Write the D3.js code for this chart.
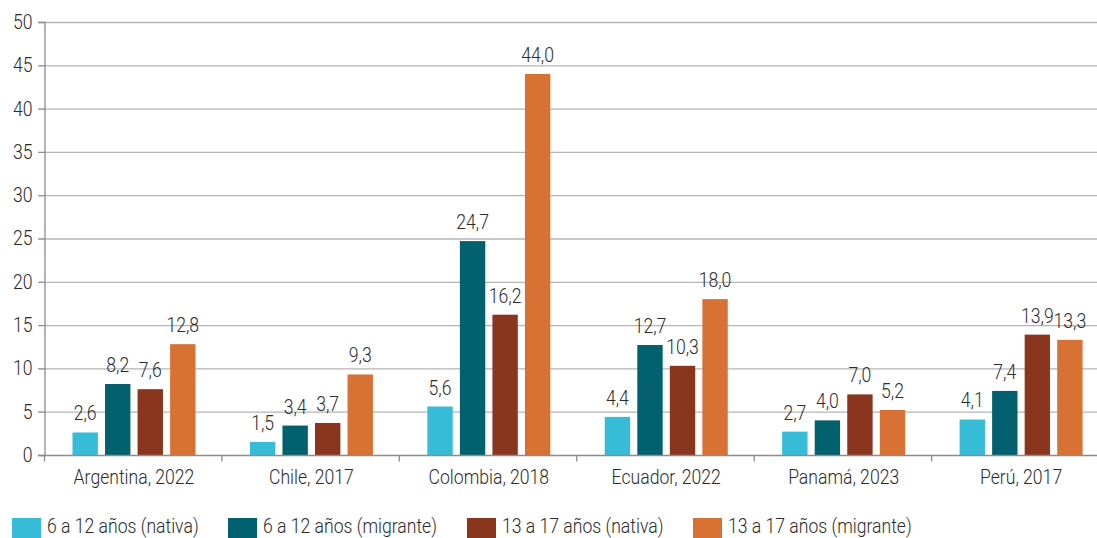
<!DOCTYPE html>
<html>
<head>
<meta charset="utf-8">
<script src="https://cdn.jsdelivr.net/npm/d3@7"></script>
<style>
  body { margin: 0; background: #fff; }
  text { font-family: Roboto, sans-serif; fill: #2b2b2b; font-weight: 300; }
</style>
</head>
<body>
<svg id="graf" width="1097" height="538"></svg>
<script>
let categorias = ['Argentina, 2022', 'Chile, 2017', 'Colombia, 2018', 'Ecuador, 2022', 'Panamá, 2023', 'Perú, 2017']
let series = ['6 a 12 años (nativa)', '6 a 12 años (migrante)', '13 a 17 años (nativa)', '13 a 17 años (migrante)']
let nativa6 = [2.6, 1.5, 5.6, 4.4, 2.7, 4.1]
let migrante6 = [8.2, 3.4, 24.7, 12.7, 4.0, 7.4]
let nativa13 = [7.6, 3.7, 16.2, 10.3, 7.0, 13.9]
let migrante13 = [12.8, 9.3, 44.0, 18.0, 5.2, 13.3]
let ticksY = [0, 5, 10, 15, 20, 25, 30, 35, 40, 45, 50]
let colores = ['#36bcd7', '#03606f', '#8a361f', '#d87134']

function graficar() {
  let valores = [nativa6, migrante6, nativa13, migrante13]
  let svg = d3.select('#graf')
  let fuente = 20

  let x = d3.scaleBand()
            .domain(categorias)
            .range([44.5, 1109])
            .paddingInner(0)
            .paddingOuter(0)
  let x1 = d3.scaleBand()
             .domain(series)
             .range([28, 151])
             .paddingInner(0.22)
  let y = d3.scaleLinear()
            .domain([0, 50])
            .range([455, 22])
  let color = d3.scaleOrdinal().domain(series).range(colores)

  // grid
  svg.append('g')
    .selectAll('line')
    .data(ticksY.slice(1))
    .enter().append('line')
    .attr('x1', 38).attr('x2', 1097)
    .attr('y1', d => y(d) + 0.5).attr('y2', d => y(d) + 0.5)
    .attr('stroke', '#b5b5b5')
    .attr('stroke-width', 1.3)

  // eje y
  let ejeY = svg.append('g')
    .attr('transform', 'translate(44.5,0)')
    .call(d3.axisLeft(y).tickValues(ticksY).tickSize(6).tickPadding(6))
  ejeY.select('.domain').attr('stroke', '#8c8c8c').attr('stroke-width', 1.3)
  ejeY.selectAll('.tick line').attr('stroke', '#8c8c8c')
  ejeY.selectAll('text').attr('font-size', fuente).attr('fill', '#2b2b2b')
    .attr('font-family', 'Roboto, sans-serif')

  let grupos = svg.append('g')
    .selectAll('g')
    .data(categorias)
    .enter().append('g')
    .attr('transform', d => `translate(${x(d)},0)`)

  let barras = grupos.selectAll('g')
    .data((c, i) => series.map((s, j) => ({ serie: s, valor: valores[j][i] })))
    .enter().append('g')

  barras.append('rect')
    .attr('x', d => x1(d.serie))
    .attr('width', x1.bandwidth())
    .attr('y', d => y(d.valor))
    .attr('height', d => y(0) - y(d.valor))
    .attr('fill', d => color(d.serie))

  barras.append('text')
    .attr('x', d => x1(d.serie) + x1.bandwidth() / 2)
    .attr('y', d => y(d.valor) - 12)
    .attr('text-anchor', 'middle')
    .attr('font-size', fuente)
    .text(d => d.valor.toFixed(1).replace('.', ','))

  // eje x
  let ejeX = svg.append('g')
    .attr('transform', `translate(0,${y(0) + 0.5})`)
  ejeX.append('line')
    .attr('x1', 38).attr('x2', 1097)
    .attr('stroke', '#8c8c8c').attr('stroke-width', 1.3)
  ejeX.selectAll('line.sep')
    .data(categorias)
    .enter().append('line')
    .attr('class', 'sep')
    .attr('x1', d => x(d)).attr('x2', d => x(d))
    .attr('y1', 0).attr('y2', 6)
    .attr('stroke', '#8c8c8c').attr('stroke-width', 1.3)
  ejeX.selectAll('text')
    .data(categorias)
    .enter().append('text')
    .attr('x', d => x(d) + x1(series[0]) + 61.5)
    .attr('y', 28)
    .attr('text-anchor', 'middle')
    .attr('font-size', fuente)
    .text(d => d)

  // leyenda
  let posLeyenda = [12, 228, 467, 693]
  let ley = svg.append('g')
    .selectAll('g')
    .data(series)
    .enter().append('g')
    .attr('transform', (d, i) => `translate(${posLeyenda[i]},518)`)
  ley.append('rect')
    .attr('width', 29).attr('height', 20)
    .attr('fill', d => color(d))
  ley.append('text')
    .attr('x', 35).attr('y', 15)
    .attr('font-size', fuente)
    .text(d => d)

  // letra estrecha, como la original
  svg.selectAll('text').each(function() {
    let largo = this.getComputedTextLength()
    d3.select(this)
      .attr('textLength', largo * 0.88)
      .attr('lengthAdjust', 'spacingAndGlyphs')
  })
}

graficar()
</script>
</body>
</html>
